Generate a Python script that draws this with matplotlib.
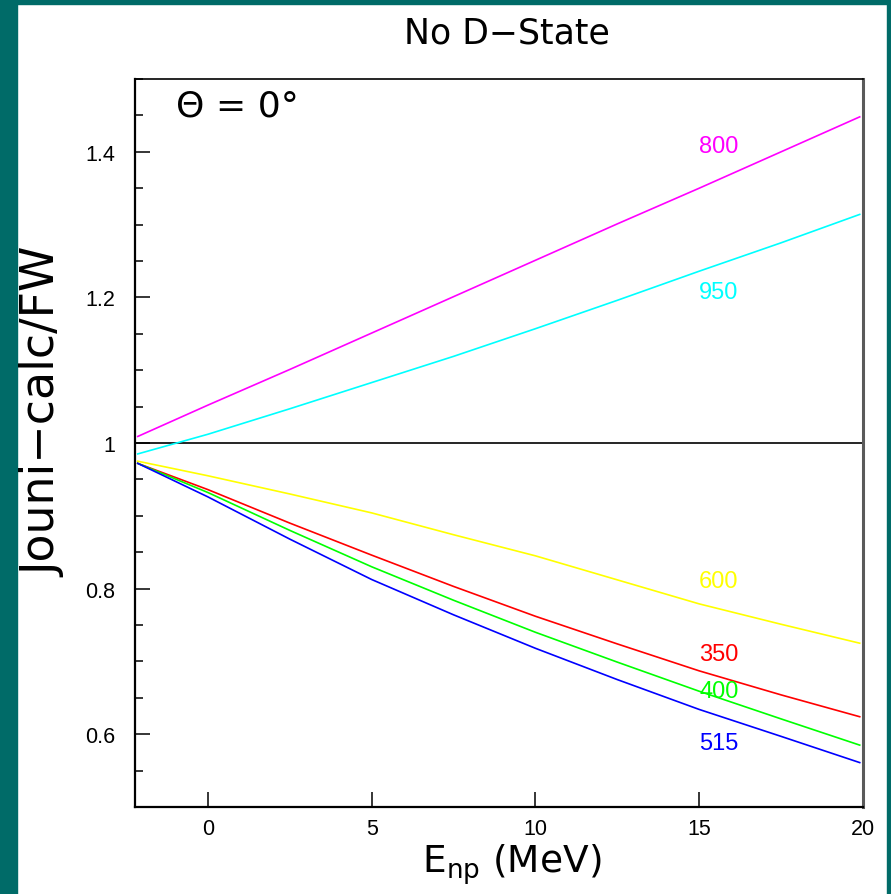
import matplotlib
matplotlib.use("Agg")
import matplotlib.pyplot as plt
from matplotlib.patches import Rectangle
from matplotlib.ticker import MultipleLocator, FixedLocator

# Neutron-proton energy grid (MeV)
e_np = [-2.14, 0.0, 2.5, 5.0, 7.5, 10.0, 12.5, 15.0, 17.5, 19.9]

# Ratio Jouni-calc / FW for each curve label
ratio_800 = [1.009, 1.052, 1.101, 1.151, 1.201, 1.251, 1.301, 1.350, 1.400, 1.448]
ratio_950 = [0.985, 1.012, 1.047, 1.083, 1.119, 1.157, 1.196, 1.236, 1.275, 1.314]
ratio_600 = [0.975, 0.955, 0.930, 0.904, 0.874, 0.845, 0.812, 0.779, 0.751, 0.725]
ratio_350 = [0.972, 0.936, 0.890, 0.846, 0.803, 0.762, 0.724, 0.687, 0.654, 0.624]
ratio_400 = [0.972, 0.932, 0.880, 0.830, 0.784, 0.740, 0.699, 0.659, 0.621, 0.585]
ratio_515 = [0.972, 0.926, 0.868, 0.8125, 0.764, 0.718, 0.675, 0.634, 0.597, 0.561]

curve_names = ["800", "950", "600", "350", "400", "515"]
curve_values = [ratio_800, ratio_950, ratio_600, ratio_350, ratio_400, ratio_515]
curve_colors = ["#ff00ff", "#00ffff", "#ffff00", "#ff0000", "#00ff00", "#0000ff"]
label_y = [1.408, 1.208, 0.810, 0.710, 0.660, 0.588]
label_x = 15.6

x_ticks = [0, 5, 10, 15, 20]
y_ticks = [0.6, 0.8, 1.0, 1.2, 1.4]
y_tick_labels = ["0.6", "0.8", "1", "1.2", "1.4"]

W, H = 891, 895
fig = plt.figure(figsize=(W / 100, H / 100), dpi=100)
fig.patch.set_facecolor("white")

# teal frame around the page
teal = "#006b68"
fig.patches.append(Rectangle((0, 0), 17 / W, 1, transform=fig.transFigure, color=teal, zorder=0))
fig.patches.append(Rectangle((0, 1 - 5 / H), 1, 5 / H, transform=fig.transFigure, color=teal, zorder=0))
fig.patches.append(Rectangle((1 - 4 / W, 0), 4 / W, 1, transform=fig.transFigure, color=teal, zorder=0))

ax = fig.add_axes([135 / W, 1 - 808 / H, (863 - 135) / W, (808 - 80) / H])
ax.set_xlim(-2.2246, 20)
ax.set_ylim(0.5, 1.5)

ax.axhline(1.0, color="black", lw=1.2, zorder=2)

for name, vals, col, ly in zip(curve_names, curve_values, curve_colors, label_y):
    ax.plot(e_np, vals, color=col, lw=1.2, zorder=3)
    ax.text(label_x, ly, name, color=col, fontsize=17, ha="center", va="center",
            family="Liberation Sans")

ax.text(0.057, 0.964, "Θ = 0°", transform=ax.transAxes, fontsize=26,
        ha="left", va="center", family="DejaVu Sans")

# axis frame
for side in ("left", "bottom"):
    ax.spines[side].set_linewidth(1.6)
    ax.spines[side].set_color("black")
ax.spines["top"].set_linewidth(1.2)
ax.spines["right"].set_linewidth(2.2)
ax.spines["right"].set_color("#5a5a5a")

ax.xaxis.set_major_locator(FixedLocator(x_ticks))
ax.set_xticklabels([str(t) for t in x_ticks])
ax.yaxis.set_major_locator(FixedLocator(y_ticks))
ax.set_yticklabels(y_tick_labels)
ax.yaxis.set_minor_locator(MultipleLocator(0.05))

ax.tick_params(axis="both", which="major", direction="in", length=10.5, width=1.1,
               labelsize=15.5, top=False, right=False)
ax.tick_params(axis="y", which="minor", direction="in", length=5.5, width=1.1, right=False)
ax.tick_params(axis="y", which="major", pad=14)
ax.tick_params(axis="x", which="major", pad=8)
for lab in ax.get_xticklabels() + ax.get_yticklabels():
    lab.set_family("Liberation Sans")

fig.text(507 / W, 1 - 33 / H, "No D−State", fontsize=25, ha="center", va="center",
         family="DejaVu Sans")
fig.text(44 / W, 1 - 412 / H, "Jouni−calc/FW", fontsize=33, rotation=90,
         ha="center", va="center", family="DejaVu Sans")
fig.text(512 / W, 1 - 873 / H, r"E$_{\mathregular{np}}$ (MeV)", fontsize=27,
         ha="center", va="baseline", family="DejaVu Sans")

fig.savefig("out.png", dpi=100, facecolor=fig.get_facecolor())
